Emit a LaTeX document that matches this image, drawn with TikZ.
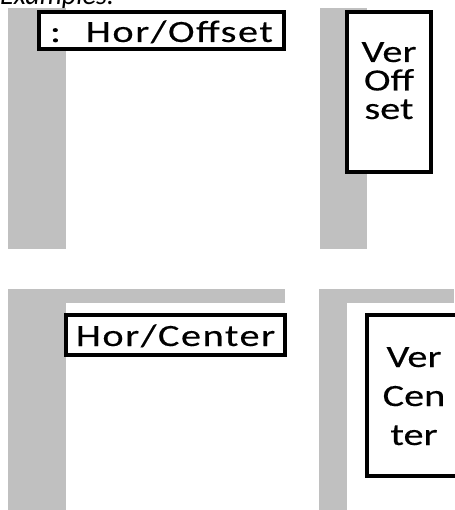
\documentclass[tikz,border=0pt]{standalone}
\usepackage{fontspec}
\setmainfont{Carlito}
\newfontfamily\horfont[FakeStretch=1.3,FakeBold=0.25,LetterSpace=5]{Carlito}
\newfontfamily\verfont[FakeStretch=1.3,FakeBold=0.25]{Carlito}
\definecolor{gris}{RGB}{192,192,192}
\tikzset{
	x=1pt, y=-1pt, % Coordenadas en puntos, el eje y hacia abajo
	barra/.style={fill=gris}, % Barras grises del fondo
	caja/.style={rectangle, draw, fill=white, line width=4pt, inner sep=0pt}, % Cajas con borde grueso
	horizontal/.style={caja, font=\horfont\fontsize{31}{31}\selectfont}, % Texto en una linea
	vertical/.style={caja, align=center, font=\verfont\fontsize{31}{#1}\selectfont} % Texto partido en lineas
}

\begin{document}
\begin{tikzpicture}
	\useasboundingbox (0,0) rectangle (454,510);
	\node[anchor=base west, inner sep=0pt, font=\itshape\fontsize{28}{30}\selectfont] (titulo) at (0,5) {Examples:};
	% arriba
	\fill[barra] (8,8) rectangle (66,249);
	\fill[barra] (320,8) rectangle (367,249);
	\node[horizontal, anchor=north west, minimum width=245pt, text height=30pt, text depth=7pt] (horoff) at (37,10) {: \ Hor/Offset};
	\node[vertical=28.5pt, anchor=north west, minimum width=84pt, text height=107pt, text depth=53pt] (veroff) at (345,10) {Ver\\Off\\set};
	% abajo
	\fill[barra] (8,289) rectangle (285,303);
	\fill[barra] (8,289) rectangle (66,510);
	\fill[barra] (319,289) rectangle (454,303);
	\fill[barra] (319,289) rectangle (347,510);
	\node[horizontal, anchor=north west, minimum width=219pt, text height=31pt, text depth=9pt] (horcen) at (64,313) {Hor/Center};
	\node[vertical=39pt, anchor=north west, minimum width=94pt, text height=130pt, text depth=31pt] (vercen) at (365,313) {Ver\\Cen\\ter};
\end{tikzpicture}
\end{document}
